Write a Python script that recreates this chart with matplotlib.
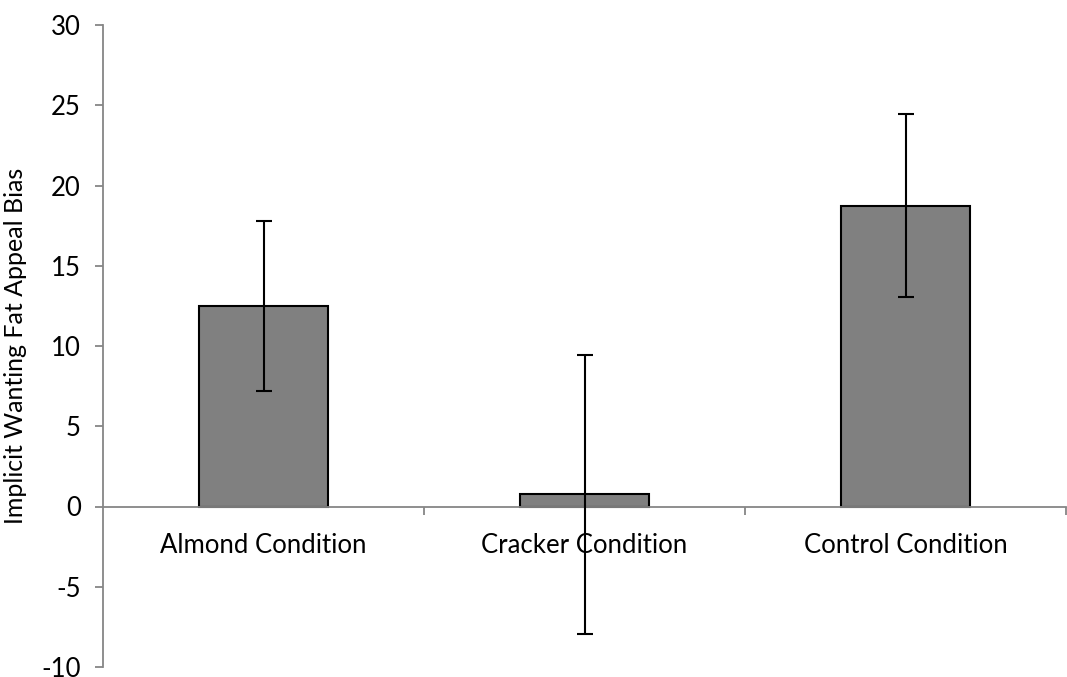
import matplotlib.pyplot as plt

# group means and error bar half-widths
conditions = ["Almond Condition", "Cracker Condition", "Control Condition"]
bias_means = [12.5, 0.77, 18.75]
bias_errors = [5.3, 8.7, 5.7]
y_ticks = [-10, -5, 0, 5, 10, 15, 20, 25, 30]

plt.rcParams['font.family'] = ['Lato', 'DejaVu Sans']

fig = plt.figure(figsize=(10.67, 6.77), dpi=100)
ax = fig.add_axes([103 / 1067, 10 / 677, 963 / 1067, 642 / 677])

pos = list(range(len(conditions)))
ax.bar(pos, bias_means, width=0.40, color="#808080", edgecolor="black", linewidth=1.5, zorder=2)
ax.errorbar(pos, bias_means, yerr=bias_errors, fmt="none", ecolor="black",
            elinewidth=1.5, capsize=6, capthick=1.5, zorder=4)

ax.set_xlim(-0.5, 2.5)
ax.set_ylim(-10, 30)
ax.set_yticks(y_ticks)
ax.set_yticklabels([str(t) for t in y_ticks], fontsize=18.5)
ax.set_ylabel("Implicit Wanting Fat Appeal Bias", fontsize=18, labelpad=10)

# category axis sits at zero, ticks between groups
ax.spines["top"].set_visible(False)
ax.spines["right"].set_visible(False)
ax.spines["bottom"].set_position(("data", 0))
for s in ("left", "bottom"):
    ax.spines[s].set_color("#868686")
    ax.spines[s].set_linewidth(1.3)
ax.set_xticks([0.5, 1.5, 2.5])
ax.set_xticklabels([])
ax.tick_params(axis="x", direction="out", length=6, color="#868686", width=1.3)
ax.tick_params(axis="y", direction="out", length=6, color="#868686", width=1.3, pad=10)
for i, name in enumerate(conditions):
    ax.text(i, -2.4, name, ha="center", va="center", fontsize=18.5, zorder=3)

fig.savefig("out.png", dpi=100)
